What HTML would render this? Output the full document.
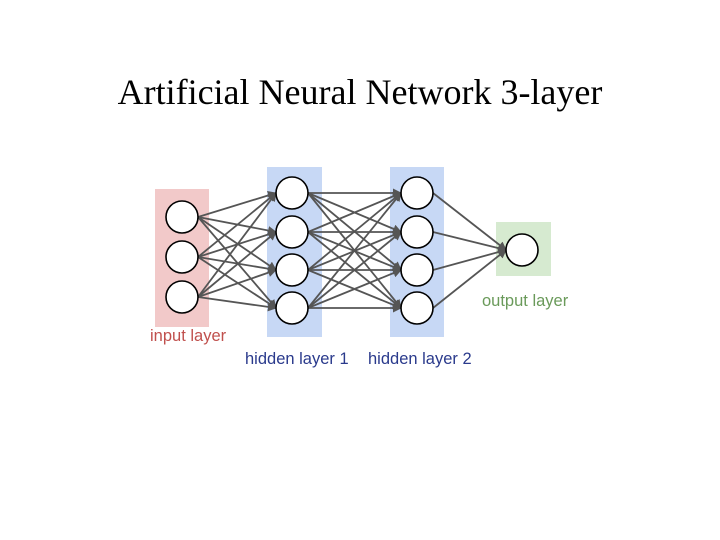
<!DOCTYPE html>
<html><head><style>
html,body{margin:0;padding:0;background:#fff;width:720px;height:540px;overflow:hidden}
.t{position:absolute;left:0;width:720px;top:71px;text-align:center;font-family:"Liberation Serif",serif;font-size:36px;color:#000}
</style></head><body>
<div class="t">Artificial Neural Network 3-layer</div>
<svg width="720" height="540" style="position:absolute;left:0;top:0">
<defs><marker id="a" markerWidth="9" markerHeight="9" refX="8" refY="4.5" orient="auto" markerUnits="userSpaceOnUse"><path d="M0,0 L9,4.5 L0,9 z" fill="#555"/></marker></defs>
<rect x="155" y="189" width="54" height="138" fill="#f2c9c9"/>
<rect x="267" y="167" width="55" height="170" fill="#c7d8f5"/>
<rect x="390" y="167" width="54" height="170" fill="#c7d8f5"/>
<rect x="496" y="222" width="55" height="54" fill="#d6ead0"/>
<g stroke="#555" stroke-width="1.8" marker-end="url(#a)">
<line x1="198" y1="217" x2="276" y2="193"/><line x1="198" y1="217" x2="276" y2="232"/><line x1="198" y1="217" x2="276" y2="270"/><line x1="198" y1="217" x2="276" y2="308"/>
<line x1="198" y1="257" x2="276" y2="193"/><line x1="198" y1="257" x2="276" y2="232"/><line x1="198" y1="257" x2="276" y2="270"/><line x1="198" y1="257" x2="276" y2="308"/>
<line x1="198" y1="297" x2="276" y2="193"/><line x1="198" y1="297" x2="276" y2="232"/><line x1="198" y1="297" x2="276" y2="270"/><line x1="198" y1="297" x2="276" y2="308"/>
<line x1="308" y1="193" x2="401" y2="193"/><line x1="308" y1="193" x2="401" y2="232"/><line x1="308" y1="193" x2="401" y2="270"/><line x1="308" y1="193" x2="401" y2="308"/>
<line x1="308" y1="232" x2="401" y2="193"/><line x1="308" y1="232" x2="401" y2="232"/><line x1="308" y1="232" x2="401" y2="270"/><line x1="308" y1="232" x2="401" y2="308"/>
<line x1="308" y1="270" x2="401" y2="193"/><line x1="308" y1="270" x2="401" y2="232"/><line x1="308" y1="270" x2="401" y2="270"/><line x1="308" y1="270" x2="401" y2="308"/>
<line x1="308" y1="308" x2="401" y2="193"/><line x1="308" y1="308" x2="401" y2="232"/><line x1="308" y1="308" x2="401" y2="270"/><line x1="308" y1="308" x2="401" y2="308"/>
<line x1="433" y1="193" x2="506" y2="250"/><line x1="433" y1="232" x2="506" y2="250"/><line x1="433" y1="270" x2="506" y2="250"/><line x1="433" y1="308" x2="506" y2="250"/>
</g>
<g fill="#fff" stroke="#000" stroke-width="1.6">
<circle cx="182" cy="217" r="16"/><circle cx="182" cy="257" r="16"/><circle cx="182" cy="297" r="16"/>
<circle cx="292" cy="193" r="16"/><circle cx="292" cy="232" r="16"/><circle cx="292" cy="270" r="16"/><circle cx="292" cy="308" r="16"/>
<circle cx="417" cy="193" r="16"/><circle cx="417" cy="232" r="16"/><circle cx="417" cy="270" r="16"/><circle cx="417" cy="308" r="16"/>
<circle cx="522" cy="250" r="16"/>
</g>
<g font-family="Liberation Sans,sans-serif" font-size="16.5">
<text x="150" y="341" fill="#c0504d">input layer</text>
<text x="245" y="364" fill="#2a3a8c">hidden layer 1</text>
<text x="368" y="364" fill="#2a3a8c">hidden layer 2</text>
<text x="482" y="306" fill="#6a9a5a">output layer</text>
</g>
</svg>
</body></html>
